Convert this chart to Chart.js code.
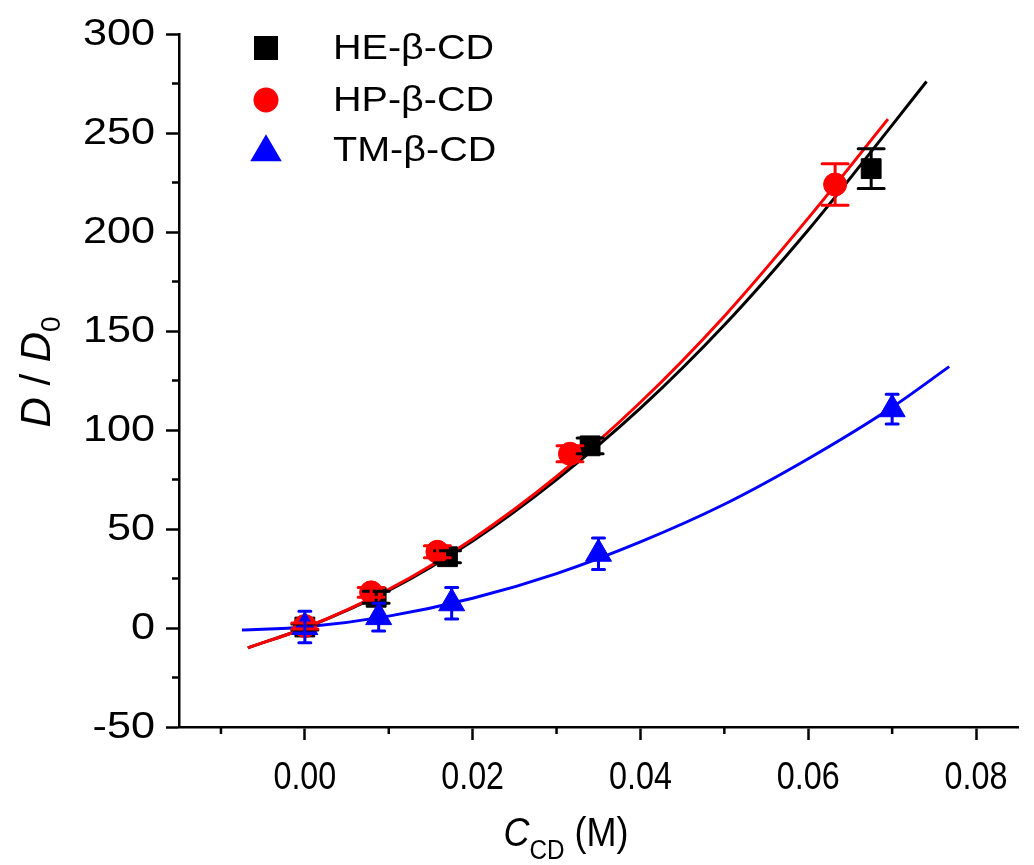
<!DOCTYPE html>
<html>
<head>
<meta charset="utf-8">
<script src="https://cdn.jsdelivr.net/npm/chart.js@4.4.0/dist/chart.umd.min.js"></script>
<style>
html, body { margin: 0; padding: 0; background: #fff; }
</style>
</head>
<body>
<canvas id="chart" width="1034" height="865"></canvas>
<script>
// measured points (C_CD in M, D/D0) + error bars
const heX = [0, 0.0085, 0.017, 0.034, 0.0675];
const heY = [0.5, 15.5, 36, 92, 232];
const heErr = [1.5, 3, 3, 4, 10];

const hpX = [0, 0.0079, 0.0158, 0.0316, 0.0632];
const hpY = [1, 18, 38.5, 88, 224];
const hpErr = [1.5, 2.5, 3, 4, 10.5];

const tmX = [0, 0.0088, 0.0175, 0.035, 0.07];
const tmY = [0.5, 5.5, 12.5, 37.5, 110.5];
const tmErr = [8, 7, 8, 8, 7.5];

// fitted curves
const heFitX = [-0.0068, 0, 0.01, 0.02, 0.03, 0.04, 0.05, 0.06, 0.07, 0.0741];
const heFitY = [-10, 0, 19, 44, 75, 111, 153, 201, 254, 276];
const hpFitX = [-0.0068, 0, 0.01, 0.02, 0.03, 0.04, 0.05, 0.06, 0.0695];
const hpFitY = [-10, 0, 19.5, 45, 76.5, 114, 157.5, 207, 257];
const tmFitX = [-0.0075, 0, 0.01, 0.02, 0.03, 0.04, 0.05, 0.06, 0.07, 0.0768];
const tmFitY = [-1, 0.5, 6, 15, 27.5, 43.5, 62.5, 85.5, 111.5, 132];

// axes
const xMajor = [0, 0.02, 0.04, 0.06, 0.08];
const xMinor = [-0.01, 0.01, 0.03, 0.05, 0.07];
const yMajor = [-50, 0, 50, 100, 150, 200, 250, 300];
const yMinor = [-25, 25, 75, 125, 175, 225, 275];

const legendNames = ["HE-β-CD", "HP-β-CD", "TM-β-CD"];
const colors = ["#000000", "#ff0000", "#0000ff"];

const FONT = '"Liberation Sans", Arial, sans-serif';

function pts(xs, ys) { return xs.map((x, i) => ({ x: x, y: ys[i] })); }

// text with a horizontal stretch factor
function stretchText(ctx, str, x, y, sx, align) {
    const w = ctx.measureText(str).width * sx;
    let left = x;
    if (align === "right") left = x - w;
    else if (align === "center") left = x - w / 2;
    ctx.save();
    ctx.translate(left, y);
    ctx.scale(sx, 1);
    ctx.textAlign = "left";
    ctx.fillText(str, 0, 0);
    ctx.restore();
    return w;
}

function marker(ctx, style, x, y, r) {
    ctx.beginPath();
    if (style === "rect") {
        ctx.rect(x - r, y - r, 2 * r, 2 * r);
    } else if (style === "circle") {
        ctx.arc(x, y, r, 0, Math.PI * 2);
    } else {
        ctx.moveTo(x, y - r * 1.05);
        ctx.lineTo(x + r * 1.05, y + r * 0.75);
        ctx.lineTo(x - r * 1.05, y + r * 0.75);
        ctx.closePath();
    }
    ctx.fill();
}

const errorBars = {
    id: "errorBars",
    afterDatasetsDraw(chart) {
        const ctx = chart.ctx;
        const xs = chart.scales.x, ys = chart.scales.y;
        const sets = [[heX, heY, heErr], [hpX, hpY, hpErr], [tmX, tmY, tmErr]];
        ctx.save();
        ctx.lineWidth = 3;
        ctx.lineCap = "round";
        sets.forEach((s, k) => {
            ctx.strokeStyle = colors[k];
            s[0].forEach((xv, i) => {
                const px = xs.getPixelForValue(xv);
                const top = ys.getPixelForValue(s[1][i] + s[2][i]);
                const bot = ys.getPixelForValue(s[1][i] - s[2][i]);
                const cap = k === 2 ? 6 : 13;
                ctx.beginPath();
                ctx.moveTo(px, top); ctx.lineTo(px, bot);
                ctx.moveTo(px - cap, top); ctx.lineTo(px + cap, top);
                ctx.moveTo(px - cap, bot); ctx.lineTo(px + cap, bot);
                ctx.stroke();
            });
        });
        ctx.restore();
    }
};

const decorations = {
    id: "decorations",
    afterDraw(chart) {
        const ctx = chart.ctx;
        const xs = chart.scales.x, ys = chart.scales.y;
        const area = chart.chartArea;
        ctx.save();
        // minor ticks
        ctx.strokeStyle = "#000";
        ctx.lineWidth = 2.5;
        ctx.beginPath();
        xMinor.forEach(v => {
            const px = xs.getPixelForValue(v);
            ctx.moveTo(px, area.bottom); ctx.lineTo(px, area.bottom + 7);
        });
        yMinor.forEach(v => {
            const py = ys.getPixelForValue(v);
            ctx.moveTo(area.left, py); ctx.lineTo(area.left - 7, py);
        });
        ctx.stroke();

        // tick labels
        ctx.fillStyle = "#000";
        ctx.font = "36px " + FONT;
        ctx.textBaseline = "middle";
        yMajor.forEach(v => {
            stretchText(ctx, String(v), area.left - 24, ys.getPixelForValue(v) + 1, 1.2, "right");
        });
        ctx.textBaseline = "alphabetic";
        ctx.font = "38px " + FONT;
        xMajor.forEach(v => {
            stretchText(ctx, v.toFixed(2), xs.getPixelForValue(v), 789, 0.85, "center");
        });

        // y title: D / D0
        ctx.save();
        ctx.translate(50, 372);
        ctx.rotate(-Math.PI / 2);
        const segY = [
            ["italic 42px " + FONT, "D", 0],
            ["42px " + FONT, " / ", 0],
            ["italic 42px " + FONT, "D", 0],
            ["28px " + FONT, "0", 10]
        ];
        let tw = 0;
        segY.forEach(s => { ctx.font = s[0]; tw += ctx.measureText(s[1]).width; });
        let cx = -tw / 2;
        segY.forEach(s => { ctx.font = s[0]; ctx.fillText(s[1], cx, s[2]); cx += ctx.measureText(s[1]).width; });
        ctx.restore();

        // x title: C_CD (M)
        const segX = [
            ["italic 40px " + FONT, "C", 0],
            ["27px " + FONT, "CD", 13],
            ["40px " + FONT, " (M)", 0]
        ];
        tw = 0;
        segX.forEach(s => { ctx.font = s[0]; tw += ctx.measureText(s[1]).width * 0.9; });
        cx = 566 - tw / 2;
        segX.forEach(s => { ctx.font = s[0]; cx += stretchText(ctx, s[1], cx, 846 + s[2], 0.9, "left"); });

        // legend
        const styles = ["rect", "circle", "tri"];
        const rows = [48, 100, 150];
        legendNames.forEach((name, i) => {
            ctx.fillStyle = colors[i];
            marker(ctx, styles[i], 266, rows[i], i === 0 ? 12 : (i === 1 ? 12.5 : 15));
            ctx.fillStyle = "#000";
            ctx.font = "35px " + FONT;
            ctx.textBaseline = "middle";
            stretchText(ctx, name, 333, rows[i] + 1, 1.13, "left");
        });
        ctx.restore();
    }
};

const lineSet = (label, xs, ys, color, order) => ({
    type: "line",
    label: label,
    data: pts(xs, ys),
    borderColor: color,
    borderWidth: 3,
    pointRadius: 0,
    fill: false,
    cubicInterpolationMode: "monotone",
    order: order
});

const pointSet = (label, xs, ys, color, style, radius, order) => ({
    type: "scatter",
    label: label,
    data: pts(xs, ys),
    backgroundColor: color,
    borderColor: color,
    borderWidth: 1,
    pointStyle: style,
    pointRadius: radius,
    pointHoverRadius: radius,
    showLine: false,
    order: order
});

new Chart(document.getElementById("chart"), {
    data: {
        datasets: [
            pointSet("TM-β-CD", tmX, tmY, colors[2], "triangle", 15, 0),
            pointSet("HP-β-CD", hpX, hpY, colors[1], "circle", 11.5, 1),
            pointSet("HE-β-CD", heX, heY, colors[0], "rect", 14, 2),
            lineSet("TM fit", tmFitX, tmFitY, colors[2], 3),
            lineSet("HP fit", hpFitX, hpFitY, colors[1], 4),
            lineSet("HE fit", heFitX, heFitY, colors[0], 5)
        ]
    },
    options: {
        responsive: false,
        animation: false,
        layout: { padding: { left: 166, top: 34, right: -3, bottom: 125 } },
        plugins: {
            legend: { display: false },
            tooltip: { enabled: false }
        },
        scales: {
            x: {
                type: "linear",
                min: -0.015,
                max: 0.085,
                afterBuildTicks: s => { s.ticks = xMajor.map(v => ({ value: v })); },
                ticks: { display: false },
                grid: { drawOnChartArea: false, drawTicks: true, tickLength: 13, tickWidth: 2.5, tickColor: "#000" },
                border: { color: "#000", width: 2.5 }
            },
            y: {
                type: "linear",
                min: -50,
                max: 300,
                afterBuildTicks: s => { s.ticks = yMajor.map(v => ({ value: v })); },
                ticks: { display: false },
                grid: { drawOnChartArea: false, drawTicks: true, tickLength: 13, tickWidth: 2.5, tickColor: "#000" },
                border: { color: "#000", width: 2.5 }
            }
        }
    },
    plugins: [errorBars, decorations]
});
</script>
</body>
</html>
